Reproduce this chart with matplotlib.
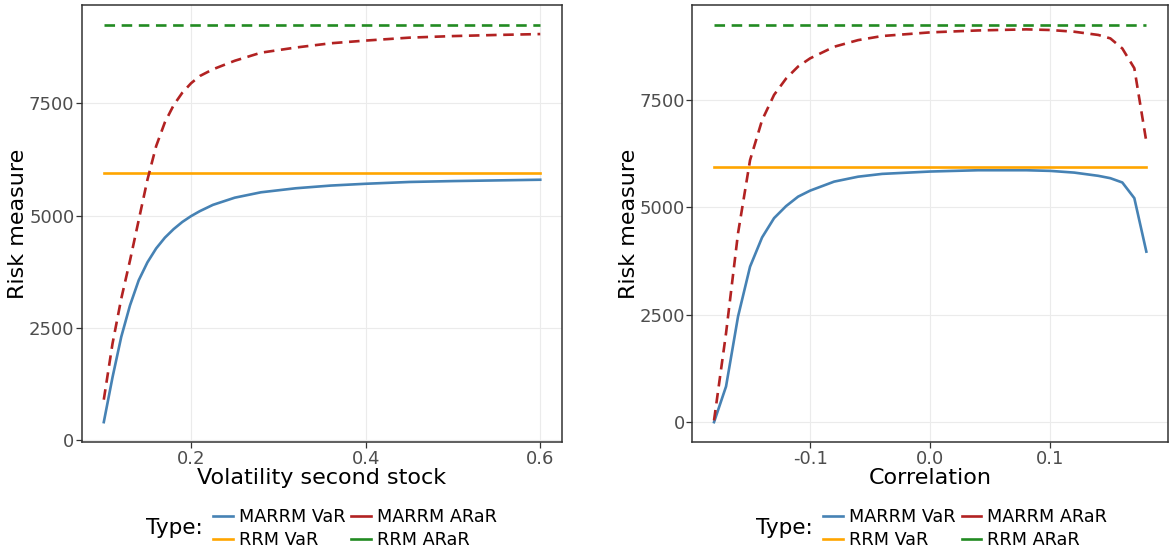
import matplotlib.pyplot as plt
from matplotlib.lines import Line2D

# left panel: volatility of second stock
vol = [0.10, 0.11, 0.12, 0.13, 0.14, 0.15, 0.16, 0.17, 0.18, 0.19, 0.20, 0.21,
       0.225, 0.25, 0.28, 0.32, 0.36, 0.40, 0.45, 0.50, 0.55, 0.60]
vol_marrm_var = [400, 1400, 2300, 3000, 3560, 3960, 4270, 4510, 4700, 4860, 4990,
                 5100, 5240, 5400, 5520, 5610, 5670, 5710, 5750, 5770, 5785, 5800]
vol_marrm_arar = [900, 2150, 3150, 4000, 4900, 5800, 6550, 7080, 7460, 7740, 7950,
                  8110, 8260, 8450, 8630, 8745, 8840, 8900, 8965, 9000, 9025, 9045]

# right panel: correlation
corr = [-0.18, -0.17, -0.16, -0.15, -0.14, -0.13, -0.12, -0.11, -0.10, -0.08,
        -0.06, -0.04, 0.00, 0.04, 0.08, 0.10, 0.12, 0.14, 0.15, 0.16, 0.17, 0.18]
corr_marrm_var = [0, 830, 2460, 3620, 4300, 4750, 5030, 5250, 5390, 5600, 5715,
                  5780, 5835, 5865, 5865, 5850, 5810, 5735, 5680, 5580, 5215, 3970]
corr_marrm_arar = [40, 2070, 4400, 6100, 7030, 7620, 8000, 8280, 8470, 8740, 8895,
                   8990, 9075, 9120, 9145, 9130, 9090, 9015, 8935, 8700, 8240, 6530]

rrm_var = 5950
rrm_arar = 9250

c_blue = "#4682B4"
c_orange = "#FFA500"
c_red = "#B22222"
c_green = "#228B22"
dash = (0, (4, 2.5))
lw = 1.9

fig = plt.figure(figsize=(11.71, 5.55), dpi=100)
ax1 = fig.add_axes([0.070, 0.2036, 0.410, 0.7874])
ax2 = fig.add_axes([0.5913, 0.2036, 0.4061, 0.7874])


def panel(ax, x, var, arar, xlabel, xticks, xticklabels, ylab_x):
    x0, x1 = x[0], x[-1]
    ax.plot(x, var, color=c_blue, lw=lw, zorder=3)
    ax.plot([x0, x1], [rrm_var, rrm_var], color=c_orange, lw=lw, zorder=3)
    ax.plot(x, arar, color=c_red, lw=lw, ls=dash, zorder=3)
    ax.plot([x0, x1], [rrm_arar, rrm_arar], color=c_green, lw=lw, ls=dash, zorder=3)
    ymin = min(min(var), min(arar))
    ymax = rrm_arar
    pad_y = 0.05 * (ymax - ymin)
    ax.set_ylim(ymin - pad_y, ymax + pad_y)
    pad_x = 0.05 * (x1 - x0)
    ax.set_xlim(x0 - pad_x, x1 + pad_x)
    ax.set_xticks(xticks)
    ax.set_xticklabels(xticklabels)
    ax.set_yticks([0, 2500, 5000, 7500])
    ax.grid(True, color="#EBEBEB", lw=0.8, zorder=0)
    ax.set_axisbelow(True)
    for s in ax.spines.values():
        s.set_color("#333333")
        s.set_linewidth(1.1)
    ax.tick_params(colors="#333333", labelcolor="#4D4D4D", labelsize=13,
                   length=4, width=0.9, pad=1.5)
    ax.set_xlabel(xlabel, fontsize=16, labelpad=0)
    ax.set_ylabel("Risk measure", fontsize=16)
    ax.yaxis.set_label_coords(ylab_x, 0.5)


panel(ax1, vol, vol_marrm_var, vol_marrm_arar, "Volatility second stock",
      [0.2, 0.4, 0.6], ["0.2", "0.4", "0.6"], -0.1125)
panel(ax2, corr, corr_marrm_var, corr_marrm_arar, "Correlation",
      [-0.1, 0.0, 0.1], ["-0.1", "0.0", "0.1"], -0.1116)

handles = [Line2D([], [], color=c_blue, lw=lw),
           Line2D([], [], color=c_orange, lw=lw),
           Line2D([], [], color=c_red, lw=lw),
           Line2D([], [], color=c_green, lw=lw)]
labels = ["MARRM VaR", "RRM VaR", "MARRM ARaR", "RRM ARaR"]

for tx, lx in [(0.1245, 0.182), (0.646, 0.703)]:
    fig.text(tx, 0.048, "Type:", fontsize=15.5, va="center")
    fig.legend(handles, labels, ncol=2, loc="center left",
               bbox_to_anchor=(lx, 0.048), frameon=False, fontsize=12.7,
               handlelength=1.1, handletextpad=0.35, columnspacing=0.35,
               labelspacing=0.3, borderaxespad=0, borderpad=0)

fig.savefig("out.png", dpi=100)
